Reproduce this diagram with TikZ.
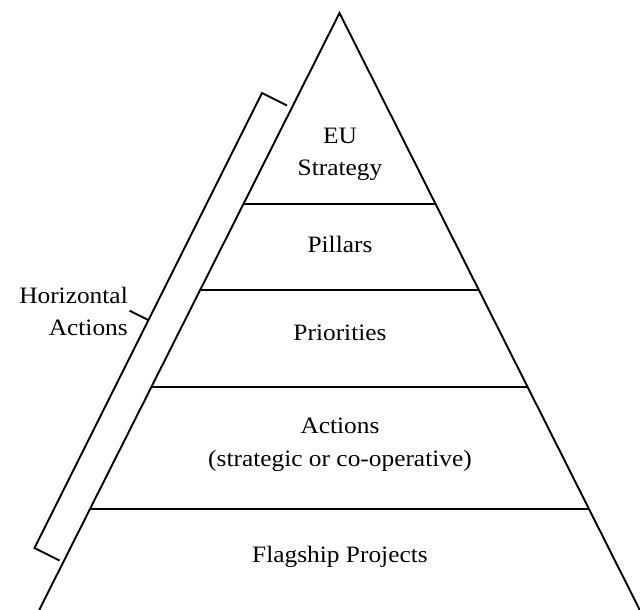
\documentclass[tikz,border=0pt]{standalone}
\usepackage{fontspec}
\setmainfont{Liberation Serif}[FakeStretch=1.08]
\begin{document}
\begin{tikzpicture}[x=1pt,y=-1pt,
  edge/.style={line width=1.9pt,line join=miter,line cap=butt},
  lvl/.style={inner sep=0pt,font=\fontsize{23.5}{32.5}\selectfont,align=center},
  side/.style={inner sep=0pt,font=\fontsize{23.5}{32.5}\selectfont,align=right}]
\useasboundingbox (0,0) rectangle (640,610);
\begin{scope}
\clip (0,0) rectangle (640,610);
% pyramid
\coordinate (apex) at (339.5,13);
\coordinate (bl) at (39.2,610);
\coordinate (br) at (639.8,610);
\draw[edge] (bl) -- (apex) -- (br);
% level dividers (x = 339.5 -/+ 0.503*(y-13))
\coordinate (l1) at (243.4,204); \coordinate (r1) at (435.6,204);
\coordinate (l2) at (200.1,290); \coordinate (r2) at (478.9,290);
\coordinate (l3) at (151.3,387); \coordinate (r3) at (527.7,387);
\coordinate (l4) at (89.9,509);  \coordinate (r4) at (589.1,509);
\draw[edge] (l1) -- (r1);
\draw[edge] (l2) -- (r2);
\draw[edge] (l3) -- (r3);
\draw[edge] (l4) -- (r4);
\end{scope}
% bracket
\coordinate (btop) at (262,93);
\coordinate (btoptick) at (287,105.5);
\coordinate (bbot) at (34.5,548);
\coordinate (bbottick) at (59.5,560.5);
\coordinate (bmid) at (148.3,320);
\coordinate (bmidtick) at (129.5,310.6);
\draw[edge] (btoptick) -- (btop) -- (bbot) -- (bbottick);
\draw[edge] (bmid) -- (bmidtick);
% labels
\node[lvl,anchor=north] (eu) at (340,127.5) {EU\\Strategy};
\node[lvl,anchor=base] (pillars) at (340,252) {Pillars};
\node[lvl,anchor=base] (priorities) at (340,340) {Priorities};
\node[lvl,anchor=north] (actions) at (340,418) {Actions\\(strategic or co-operative)};
\node[lvl,anchor=base] (flagship) at (340,562) {Flagship Projects};
\node[side,anchor=north east] (horiz) at (128,286.5) {Horizontal\\Actions};
\end{tikzpicture}
\end{document}
